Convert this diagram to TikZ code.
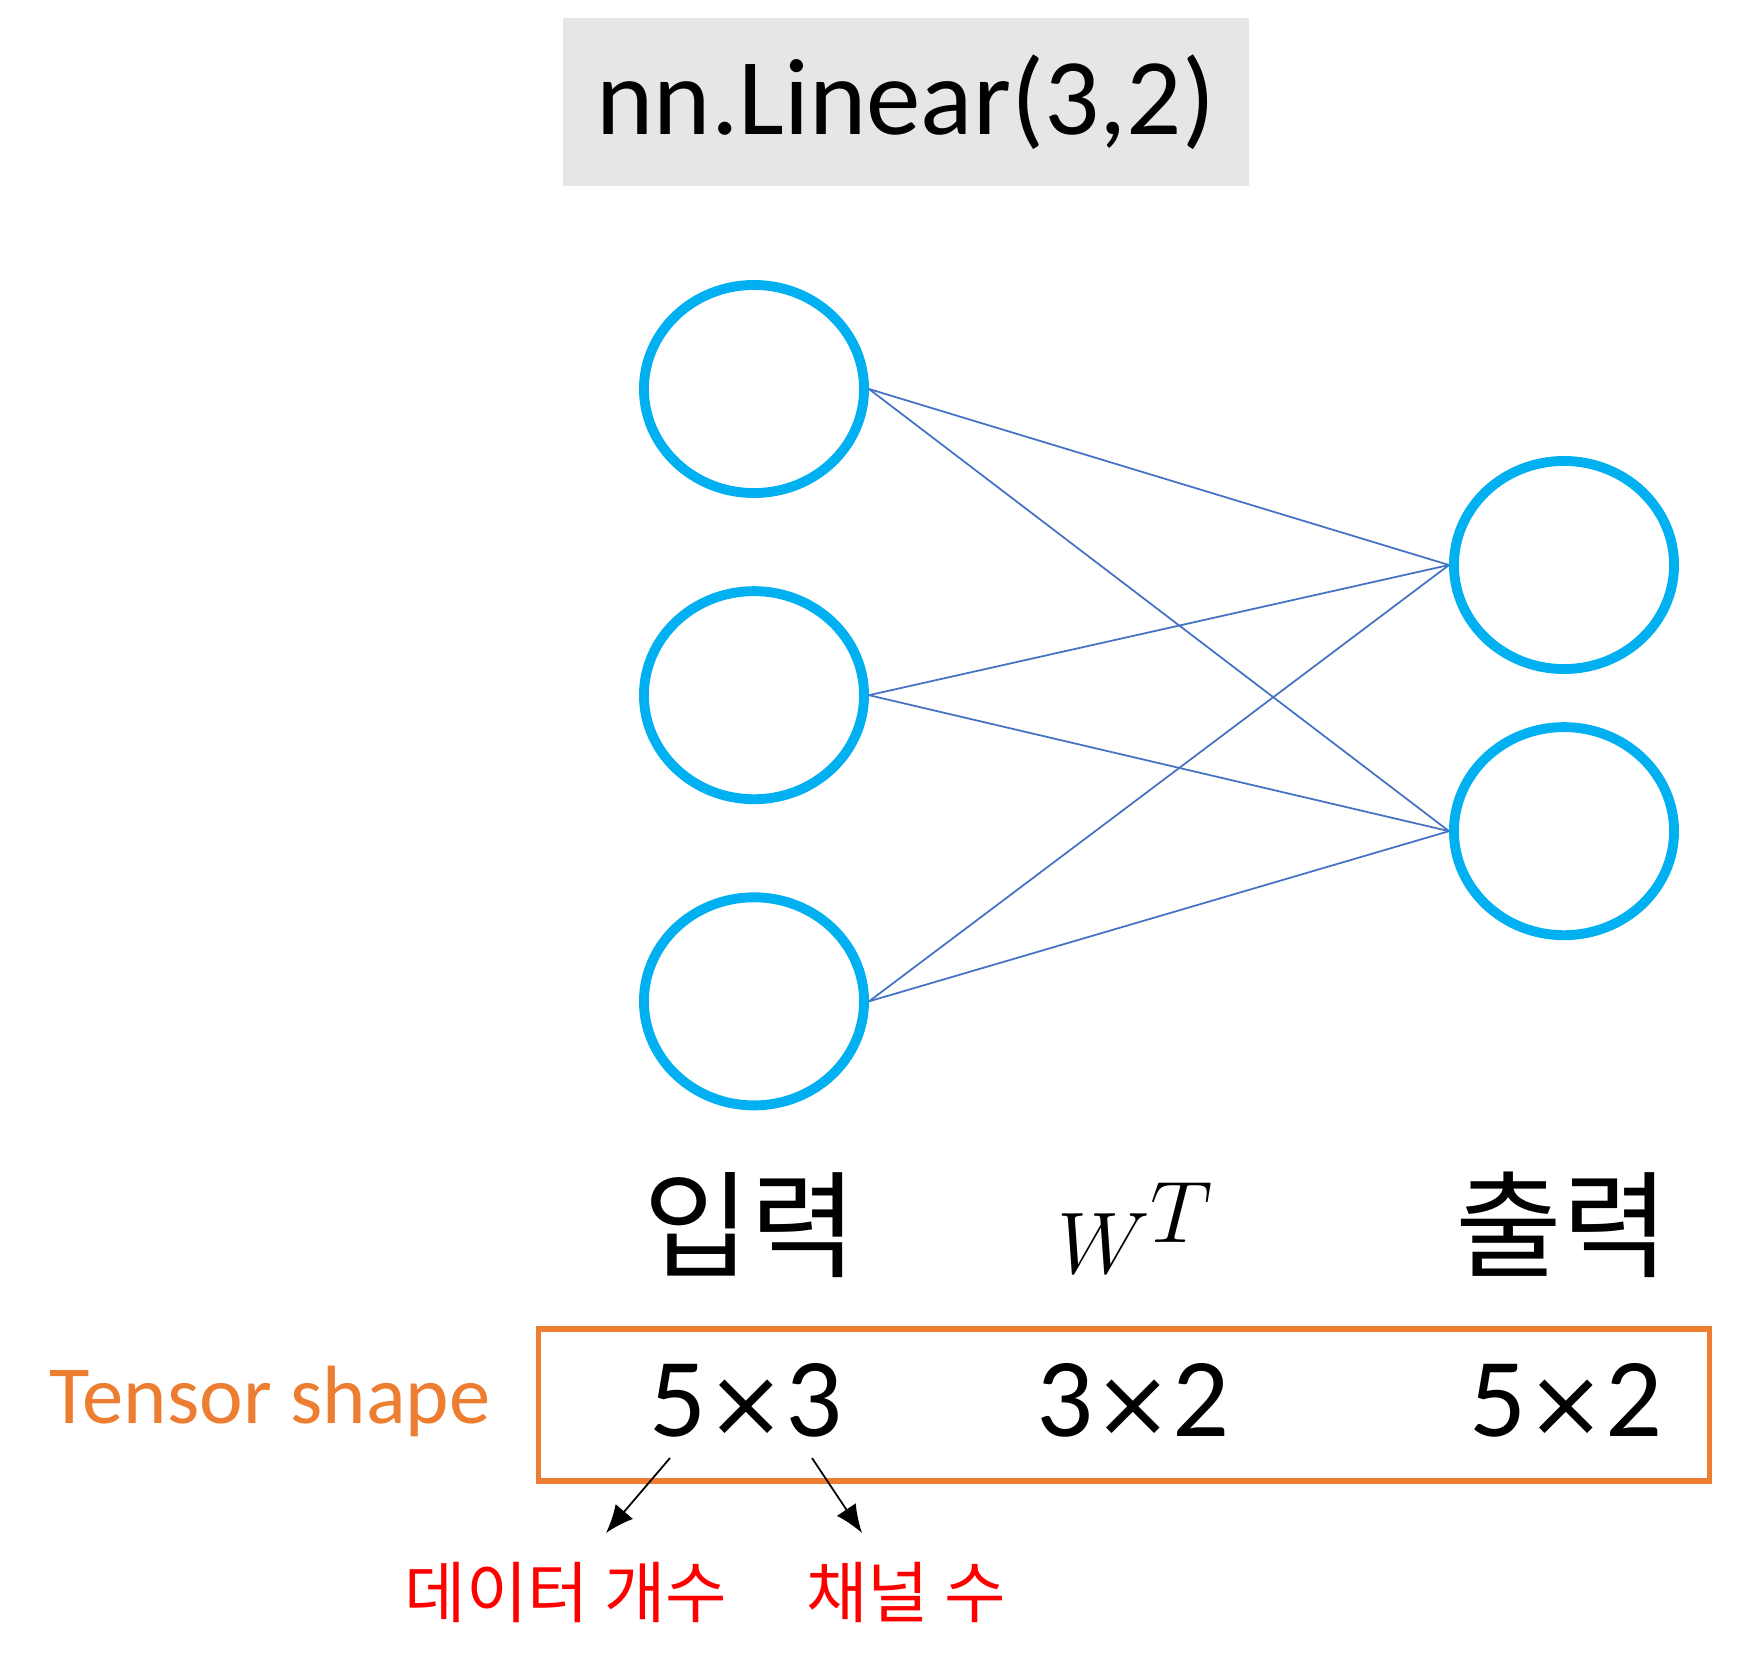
\documentclass[tikz,border=0pt]{standalone}
\usepackage{fontspec}
\setmainfont{Carlito}
\newfontfamily\kr{Noto Sans CJK KR}
\newfontfamily\sym{DejaVu Sans}
\usepackage{xcolor}
\usetikzlibrary{positioning}
\usetikzlibrary{shapes.geometric,arrows.meta}
\definecolor{nodecyan}{HTML}{00B0F0}
\definecolor{wireblue}{HTML}{4472C4}
\definecolor{shapeorange}{HTML}{ED7D31}
\definecolor{titlegray}{HTML}{E7E6E6}
\newcommand{\bytimes}{{\sym\fontsize{27}{36}\selectfont ×}}

\begin{document}
\begin{tikzpicture}[x=0.01cm,y=-0.01cm,on grid,
  neuron/.style={ellipse,draw=nodecyan,line width=2.8pt,minimum width=2.2cm,minimum height=2.08cm,inner sep=0pt},
  wire/.style={draw=wireblue,line width=0.5pt},
  dims/.style={font=\fontsize{32}{38}\selectfont,inner sep=0pt},
  layer/.style={font=\kr\fontsize{33}{38}\selectfont,inner sep=0pt},
  note/.style={font=\kr\fontsize{19}{22}\selectfont,text=red,inner sep=0pt}]
   \useasboundingbox (0,0) rectangle (1741,1672);
   \node[fill=titlegray,minimum width=6.86cm,minimum height=1.67cm,font=\fontsize{31}{38}\selectfont] (title) at (906,102) {nn.Linear(3,2)};
   \node[neuron] (i1) at (754,389) {};
   \node[neuron] (i2) [below=3.06cm of i1] {};
   \node[neuron] (i3) [below=3.06cm of i2] {};
   \node[neuron] (o1) at (1564,565) {};
   \node[neuron] (o2) [below=2.66cm of o1] {};
   \draw[wire] (i1.east) -- (o1.west);
   \draw[wire] (i1.east) -- (o2.west);
   \draw[wire] (i2.east) -- (o1.west);
   \draw[wire] (i2.east) -- (o2.west);
   \draw[wire] (i3.east) -- (o1.west);
   \draw[wire] (i3.east) -- (o2.west);
   \node[layer] (in) at (750,1225) {입력};
   \node[font=\fontsize{40}{46}\selectfont,inner sep=0pt] (w) at (1136,1228) {$W^T$};
   \node[layer] (out) at (1562,1225) {출력};
   \node[draw=shapeorange,line width=1.6pt,minimum width=11.7cm,minimum height=1.52cm] (box) at (1124,1405) {};
   \node[font=\fontsize{23.5}{28}\selectfont,text=shapeorange,inner sep=0pt] (tshape) at (270,1401) {Tensor shape};
   \node[dims] (s1) at (746,1400) {5\bytimes3};
   \node[dims] (s2) at (1133,1400) {3\bytimes2};
   \node[dims] (s3) at (1566,1400) {5\bytimes2};
   \node[note] (n1) at (566,1592) {데이터 개수};
   \node[note] (n2) at (906,1592) {채널 수};
   \coordinate (a1) at (670,1458);
   \coordinate (b1) at (606,1533);
   \coordinate (a2) at (812,1458);
   \coordinate (b2) at (862,1533);
   \draw[-{Latex[length=8pt,width=6.5pt]},line width=0.5pt] (a1) -- (b1);
   \draw[-{Latex[length=8pt,width=6.5pt]},line width=0.5pt] (a2) -- (b2);
 \end{tikzpicture}
\end{document}
